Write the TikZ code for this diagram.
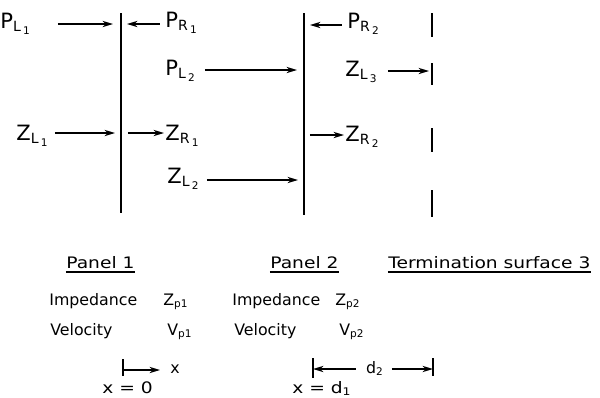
\documentclass[tikz,border=0pt]{standalone}
\usepackage{fontspec}
\setmainfont{DejaVu Sans}
\newfontfamily\capfont[FakeStretch=1.18]{DejaVu Sans}
\usetikzlibrary{arrows.meta}
\newcommand{\twosub}[3]{#1\textsubscript{#2\,\textsubscript{#3}}}

\begin{document}
\begin{tikzpicture}[x=0.02cm,y=-0.02cm,
  panel/.style={line width=1.7pt},
  termline/.style={line width=1.3pt},
  arr/.style={line width=0.75pt,-{Stealth[length=6pt,width=3.6pt]}},
  lbl/.style={anchor=base west,inner sep=0pt,font=\fontsize{12}{14}\selectfont},
  txt/.style={anchor=base west,inner sep=0pt,font=\fontsize{9}{11}\selectfont},
  captxt/.style={txt,font=\fontsize{9}{11}\capfont}]
  \useasboundingbox (0,0) rectangle (600,397);

  % panels and termination surface
  \coordinate (pan1t) at (121,13);
  \coordinate (pan1b) at (121,213);
  \coordinate (pan2t) at (304,13);
  \coordinate (pan2b) at (304,215);
  \draw[panel] (pan1t) -- (pan1b);
  \draw[panel] (pan2t) -- (pan2b);
  \foreach \a/\b in {13/37,63/85,128/152,190/217}
    \draw[termline] (432,\a) -- (432,\b);

  % wave labels
  \node[lbl] (pl1) at (0,28) {\twosub{P}{L}{1}};
  \node[lbl] (pr1) at (165,27) {\twosub{P}{R}{1}};
  \node[lbl] (pl2) at (165,75) {\twosub{P}{L}{2}};
  \node[lbl] (zl1) at (16,140) {\twosub{Z}{L}{1}};
  \node[lbl] (zr1) at (165,140) {\twosub{Z}{R}{1}};
  \node[lbl] (zl2) at (167,183) {\twosub{Z}{L}{2}};
  \node[lbl] (pr2) at (347,28) {\twosub{P}{R}{2}};
  \node[lbl] (zl3) at (345,76) {\twosub{Z}{L}{3}};
  \node[lbl] (zr2) at (345,141) {\twosub{Z}{R}{2}};

  % arrow ends
  \coordinate (pl1s) at (58,24);   \coordinate (pl1e) at (113,24);
  \coordinate (pr1s) at (160,24);  \coordinate (pr1e) at (127,24);
  \coordinate (pl2s) at (205,70);  \coordinate (pl2e) at (297,70);
  \coordinate (zl1s) at (55,133);  \coordinate (zl1e) at (115,133);
  \coordinate (zr1s) at (128,133); \coordinate (zr1e) at (164,133);
  \coordinate (zl2s) at (207,180); \coordinate (zl2e) at (298,180);
  \coordinate (pr2s) at (342,25);  \coordinate (pr2e) at (310,25);
  \coordinate (zl3s) at (388,71);  \coordinate (zl3e) at (429,71);
  \coordinate (zr2s) at (310,135); \coordinate (zr2e) at (344,135);
  \draw[arr] (pl1s) -- (pl1e);
  \draw[arr] (pr1s) -- (pr1e);
  \draw[arr] (pl2s) -- (pl2e);
  \draw[arr] (zl1s) -- (zl1e);
  \draw[arr] (zr1s) -- (zr1e);
  \draw[arr] (zl2s) -- (zl2e);
  \draw[arr] (pr2s) -- (pr2e);
  \draw[arr] (zl3s) -- (zl3e);
  \draw[arr] (zr2s) -- (zr2e);

  % captions
  \node[captxt] (cap1) at (66,268) {Panel 1};
  \node[captxt] (cap2) at (270,268) {Panel 2};
  \node[captxt] (cap3) at (388,268) {Termination surface 3};
  \draw[line width=0.8pt] (66,272) -- (cap1.east |- 0,272);
  \draw[line width=0.8pt] (270,272) -- (cap2.east |- 0,272);
  \draw[line width=0.8pt] (388,272) -- (cap3.east |- 0,272);

  \node[txt] (imp1) at (49,305) {Impedance};
  \node[txt] (zp1) at (163,305) {Z\textsubscript{p1}};
  \node[txt] (vel1) at (50,335) {Velocity};
  \node[txt] (vp1) at (167,335) {V\textsubscript{p1}};
  \node[txt] (imp2) at (232,305) {Impedance};
  \node[txt] (zp2) at (335,305) {Z\textsubscript{p2}};
  \node[txt] (vel2) at (234,335) {Velocity};
  \node[txt] (vp2) at (339,335) {V\textsubscript{p2}};

  % x axis
  \coordinate (o1t) at (123,359);
  \coordinate (o1b) at (123,376);
  \coordinate (o1a) at (123,370);
  \coordinate (o1e) at (160,370);
  \draw[line width=0.75pt] (o1t) -- (o1b);
  \draw[arr] (o1a) -- (o1e);
  \node[txt] (xax) at (170,373) {x};
  \node[captxt] (xzero) at (102,393) {x = 0};

  % distance d2
  \coordinate (d2lt) at (313,358);
  \coordinate (d2lb) at (313,378);
  \coordinate (d2rt) at (433,358);
  \coordinate (d2rb) at (433,376);
  \coordinate (d2ls) at (356,369);
  \coordinate (d2rs) at (392,369);
  \draw[line width=0.75pt] (d2lt) -- (d2lb);
  \draw[line width=0.75pt] (d2rt) -- (d2rb);
  \node[txt,anchor=base] (d2) at (375,373) {d\textsubscript{2}};
  \draw[arr] (d2ls) -- (d2lt |- d2ls);
  \draw[arr] (d2rs) -- (d2rt |- d2rs);
  \node[captxt] (xd1) at (292,393) {x = d\textsubscript{1}};
\end{tikzpicture}
\end{document}
